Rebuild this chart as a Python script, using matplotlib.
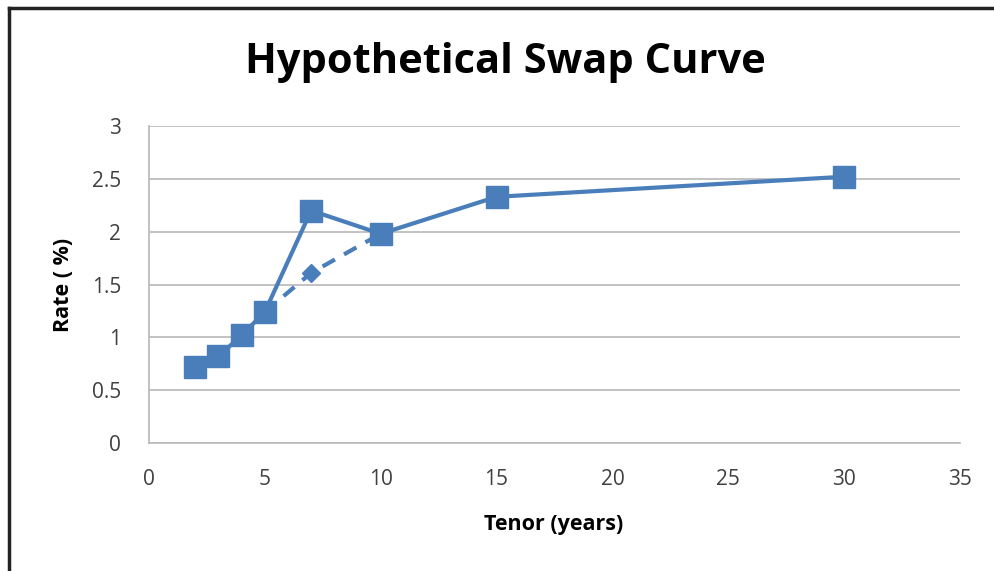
import matplotlib
matplotlib.use("Agg")
import matplotlib.pyplot as plt
from matplotlib.lines import Line2D

plt.rcParams["font.family"] = ["Open Sans", "DejaVu Sans"]

# swap curve (solid, squares)
tenor = [2, 3, 4, 5, 7, 10, 15, 30]
rate = [0.72, 0.82, 1.02, 1.24, 2.20, 1.98, 2.33, 2.52]

# alternative path (dashed, diamond)
alt_tenor = [5, 7, 10]
alt_rate = [1.24, 1.61, 1.98]

blue = "#4a7ebb"
grid = "#bdbdbd"
txt = "#404040"

fig = plt.figure(figsize=(9.95, 5.71), dpi=100)
ax = fig.add_axes([0.1497, 0.2242, 0.8151, 0.5551])

ax.plot(alt_tenor, alt_rate, color=blue, lw=3.0, marker="D", markersize=9,
        markevery=[1], dashes=(3.4, 2.5), zorder=3)
ax.plot(tenor, rate, color=blue, lw=3.0, marker="s", markersize=16.5,
        zorder=4)

ax.set_xlim(0, 35)
ax.set_ylim(0, 3)
ax.set_xticks(range(0, 40, 5))
ax.set_yticks([0, 0.5, 1, 1.5, 2, 2.5, 3])
ax.set_yticklabels(["0", "0.5", "1", "1.5", "2", "2.5", "3"])

ax.yaxis.grid(True, color=grid, lw=1.3)
ax.set_axisbelow(True)
for s in ["top", "right"]:
    ax.spines[s].set_visible(False)
for s in ["left", "bottom"]:
    ax.spines[s].set_color(grid)
    ax.spines[s].set_linewidth(1.3)
ax.tick_params(length=0, labelsize=15, labelcolor=txt)
ax.tick_params(axis="x", pad=19)
ax.tick_params(axis="y", pad=20)

ax.set_xlabel("Tenor (years)", fontsize=15.5, fontweight="bold")
ax.set_ylabel("Rate ( %)", fontsize=15.5, fontweight="bold")
ax.xaxis.set_label_coords(0.499, -0.225)
ax.yaxis.set_label_coords(-0.092, 0.498)
fig.text(0.508, 0.89, "Hypothetical Swap Curve", ha="center", va="center",
         fontsize=30, fontweight="bold")

# screenshot frame on top and left
fig.add_artist(Line2D([0.009, 1.0], [0.986, 0.986], color="#222222", lw=2.5,
                      transform=fig.transFigure))
fig.add_artist(Line2D([0.009, 0.009], [0.0, 0.986], color="#222222", lw=2.5,
                      transform=fig.transFigure))

fig.savefig("out.png", dpi=100)
